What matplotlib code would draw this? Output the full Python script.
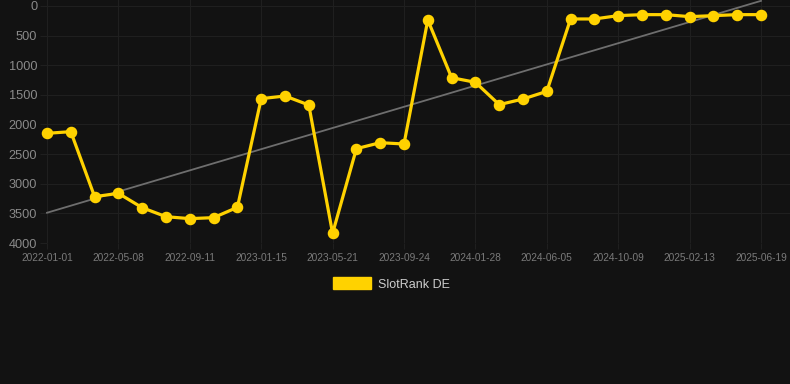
import matplotlib.pyplot as plt
import numpy as np

ranks = [2149, 2121, 3218, 3162, 3404, 3556, 3589, 3572, 3398, 1564,
         1519, 1671, 3837, 2408, 2307, 2329, 236, 1210, 1288, 1665,
         1570, 1441, 219, 219, 163, 146, 146, 180, 163, 146, 146]
tick_labels = ['2022-01-01', '2022-05-08', '2022-09-11', '2023-01-15',
               '2023-05-21', '2023-09-24', '2024-01-28', '2024-06-05',
               '2024-10-09', '2025-02-13', '2025-06-19']

bg = '#121212'
grid = '#1f1f1f'
gold = '#FFD200'

plt.rcParams['font.family'] = ['Liberation Sans', 'DejaVu Sans']

fig = plt.figure(figsize=(7.9, 3.84), dpi=100, facecolor=bg)
ax = fig.add_axes([47/790, (384-243)/384, 1 - 47/790, 243/384])
ax.set_facecolor(bg)

x = np.arange(len(ranks))
ax.plot(x, ranks, color=gold, lw=2.3, marker='o', ms=7.3, zorder=3, clip_on=False)

# linear trend
k, b = np.polyfit(x, ranks, 1)
ax.plot(x, k*x + b, color='#6e6e6e', lw=1.3, zorder=2, clip_on=False)

ax.set_xlim(0, 30 + 29/23.8)
ax.set_ylim(4000, -101)
ax.set_yticks(np.arange(0, 4001, 500))
ax.set_xticks(x[::3])
ax.set_xticklabels(tick_labels)

ax.grid(True, color=grid, lw=0.8)
for s in ax.spines.values():
    s.set_visible(False)
ax.tick_params(axis='y', colors=grid, length=5, width=0.8, labelcolor='#8a8a8a',
               labelsize=9.2, pad=2)
ax.tick_params(axis='x', colors=grid, length=4, width=0.8, labelcolor='#7a7a7a',
               labelsize=7.3, pad=3)

h = plt.Rectangle((0, 0), 1, 1, color=gold)
fig.legend([h], ['SlotRank DE'], loc='center', bbox_to_anchor=(391/790, 1 - 284/384),
           frameon=False, labelcolor='#cccccc', fontsize=9, handlelength=3.1,
           handleheight=1.1, handletextpad=0.5)

plt.savefig('out.png', dpi=100, facecolor=bg)
